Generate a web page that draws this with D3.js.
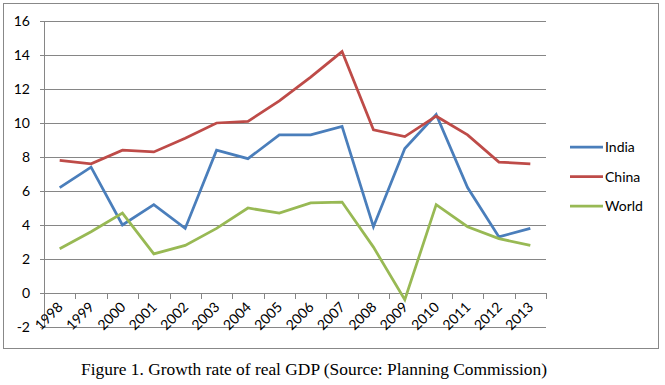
<!DOCTYPE html>
<meta charset="utf-8" />
<script src="https://d3js.org/d3.v7.js"></script>
<style>
  body { margin: 0; background: white; }
</style>
<div id="chart_div"></div>
<script>
  // data
  var years = ["1998","1999","2000","2001","2002","2003","2004","2005","2006","2007","2008","2009","2010","2011","2012","2013"];
  var india = [6.2, 7.4, 4.0, 5.2, 3.8, 8.4, 7.9, 9.3, 9.3, 9.8, 3.9, 8.5, 10.5, 6.2, 3.3, 3.8];
  var china = [7.8, 7.6, 8.4, 8.3, 9.1, 10.0, 10.1, 11.3, 12.7, 14.2, 9.6, 9.2, 10.4, 9.3, 7.7, 7.6];
  var world = [2.6, 3.6, 4.7, 2.3, 2.8, 3.8, 5.0, 4.7, 5.3, 5.35, 2.7, -0.4, 5.2, 3.9, 3.2, 2.8];
  var seriesNames = ["India", "China", "World"];
  var yTicks = [-2, 0, 2, 4, 6, 8, 10, 12, 14, 16];

  var colors = { India: "#4A7EBB", China: "#BE4B48", World: "#98B954" };
  var seriesData = { India: india, China: china, World: world };

  const width = 665;
  const height = 385;
  var svg = d3.select("#chart_div").append("svg")
    .attr("width", width).attr("height", height);

  // outer frame of the chart
  svg.append("rect")
    .attr("x", 3.5).attr("y", 3.5)
    .attr("width", 655).attr("height", 345)
    .attr("fill", "white")
    .attr("stroke", "#888888").attr("stroke-width", 1);

  var x = d3.scaleBand().domain(years).range([44, 546]);
  var y = d3.scaleLinear().domain([-2, 16]).range([327, 21]);

  var font = "Lato, 'Open Sans', sans-serif";

  // gridlines
  svg.append("g").selectAll("line")
    .data(yTicks).enter().append("line")
    .attr("x1", 40).attr("x2", 546)
    .attr("y1", d => Math.round(y(d)) + 0.5)
    .attr("y2", d => Math.round(y(d)) + 0.5)
    .attr("stroke", "#868686").attr("stroke-width", 1);

  // y axis line
  svg.append("line")
    .attr("x1", 44.5).attr("x2", 44.5)
    .attr("y1", y(16)).attr("y2", y(-2))
    .attr("stroke", "#868686");

  svg.append("g").selectAll("text")
    .data(yTicks).enter().append("text")
    .attr("x", 30).attr("y", d => y(d) + 5)
    .attr("text-anchor", "end")
    .style("font-family", font).style("font-size", "14px")
    .style("fill", "#000")
    .text(d => d);

  // x axis ticks on zero line
  var ticksX = years.map(d => x(d)).concat([x.range()[1]]);
  svg.append("g").selectAll("line")
    .data(ticksX).enter().append("line")
    .attr("x1", d => Math.round(d) + 0.5).attr("x2", d => Math.round(d) + 0.5)
    .attr("y1", Math.round(y(0))).attr("y2", Math.round(y(0)) + 6)
    .attr("stroke", "#868686");

  svg.append("g").selectAll("text")
    .data(years).enter().append("text")
    .attr("text-anchor", "end")
    .attr("transform", d => "translate(" + (x(d) + x.bandwidth() / 2 + 4) + "," + (y(0) + 15) + ") rotate(-45)")
    .style("font-family", font).style("font-size", "14px")
    .style("fill", "#000")
    .text(d => d);

  // lines
  var line = d3.line()
    .x((d, i) => x(years[i]) + x.bandwidth() / 2)
    .y(d => y(d));

  seriesNames.forEach(function (name) {
    svg.append("path")
      .datum(seriesData[name])
      .attr("d", line)
      .attr("fill", "none")
      .attr("stroke", colors[name])
      .attr("stroke-width", 2.75)
      .attr("stroke-linejoin", "miter");
  });

  // legend
  var legend = svg.append("g");
  seriesNames.forEach(function (name, i) {
    var ly = 147 + i * 29.5;
    legend.append("line")
      .attr("x1", 570).attr("x2", 603)
      .attr("y1", ly).attr("y2", ly)
      .attr("stroke", colors[name]).attr("stroke-width", 2.75);
    legend.append("text")
      .attr("x", 605).attr("y", ly + 5)
      .style("font-family", font).style("font-size", "14px")
      .style("fill", "#000")
      .text(name);
  });

  // caption
  svg.append("text")
    .attr("x", 314).attr("y", 375)
    .attr("text-anchor", "middle")
    .style("font-family", "'Liberation Serif', 'Times New Roman', serif")
    .style("font-size", "17.4px")
    .style("fill", "#000")
    .text("Figure 1. Growth rate of real GDP (Source: Planning Commission)");
</script>
